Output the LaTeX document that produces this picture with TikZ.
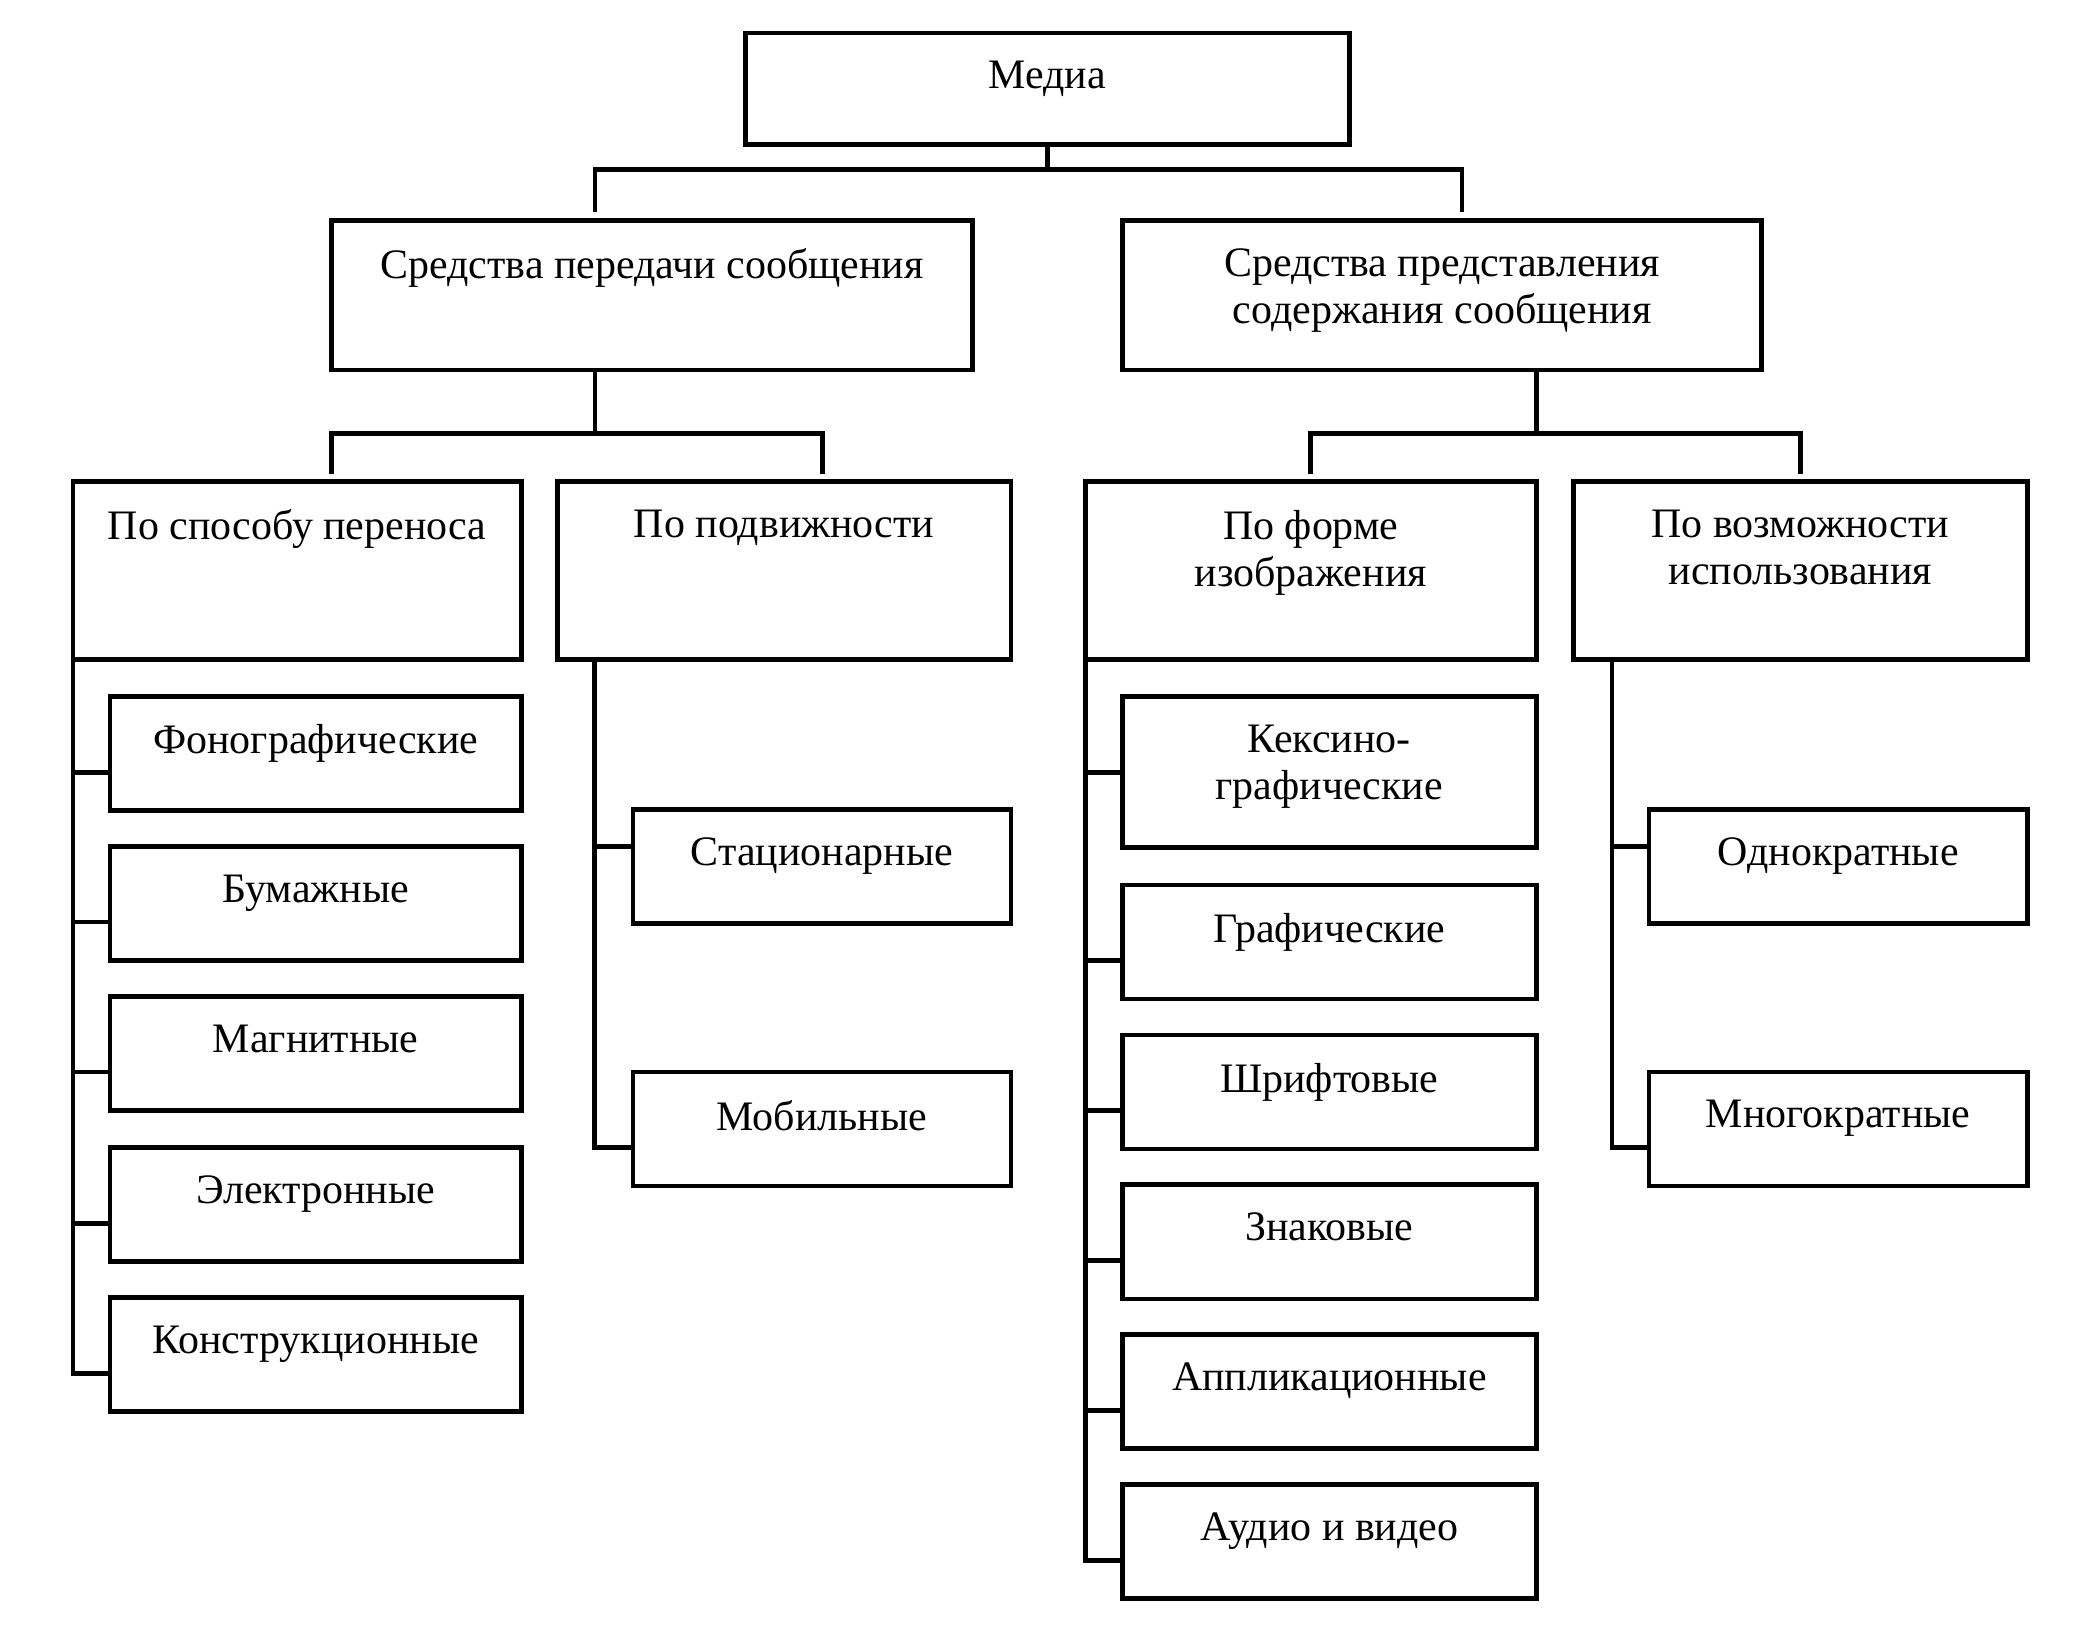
\documentclass[tikz,border=0pt]{standalone}
\usepackage{fontspec}
\setmainfont{Liberation Serif}
\usetikzlibrary{calc}

\tikzset{
    box/.style={draw, line width=2pt, inner sep=0pt, outer sep=0pt, anchor=north west},
    txt/.style={anchor=north, align=center, inner sep=0pt, font=\fontsize{18pt}{20.4pt}\selectfont},
    link/.style={line width=2pt}
}

\begin{document}
\begin{tikzpicture}[x=0.02cm,y=-0.02cm]
\useasboundingbox (0,0) rectangle (1567,1242.1);

% top
\node[box, minimum width=9.1cm, minimum height=1.68cm] (media) at (562,25){};
\node[txt] (media-t) at ($(media.north)+(0,21)$) {Медиа};

% second level
\node[box, minimum width=9.66cm, minimum height=2.26cm] (peredacha) at (250,166){};
\node[txt] (peredacha-t) at ($(peredacha.north)+(0,21)$) {Средства передачи сообщения};
\node[box, minimum width=9.64cm, minimum height=2.26cm] (predst) at (846,166){};
\node[txt] (predst-t) at ($(predst.north)+(0,21)$) {Средства представления\\содержания сообщения};

% third level
\node[box, minimum width=6.76cm, minimum height=2.68cm] (sposob) at (55,363){};
\node[txt] (sposob-t) at ($(sposob.north)+(0,21)$) {По способу переноса};
\node[box, minimum width=6.84cm, minimum height=2.68cm] (podv) at (420,363){};
\node[txt] (podv-t) at ($(podv.north)+(0,21)$) {По подвижности};
\node[box, minimum width=6.8cm, minimum height=2.68cm] (forma) at (818,363){};
\node[txt] (forma-t) at ($(forma.north)+(0,21)$) {По форме\\изображения};
\node[box, minimum width=6.84cm, minimum height=2.68cm] (vozm) at (1186,363){};
\node[txt] (vozm-t) at ($(vozm.north)+(0,21)$) {По возможности\\использования};

% po sposobu perenosa
\node[box, minimum width=6.2cm, minimum height=1.72cm] (fono) at (83,525){};
\node[txt] (fono-t) at ($(fono.north)+(0,21)$) {Фонографические};
\node[box, minimum width=6.2cm, minimum height=1.72cm] (bum) at (83,638){};
\node[txt] (bum-t) at ($(bum.north)+(0,21)$) {Бумажные};
\node[box, minimum width=6.2cm, minimum height=1.72cm] (magn) at (83,751){};
\node[txt] (magn-t) at ($(magn.north)+(0,21)$) {Магнитные};
\node[box, minimum width=6.2cm, minimum height=1.72cm] (elek) at (83,865){};
\node[txt] (elek-t) at ($(elek.north)+(0,21)$) {Электронные};
\node[box, minimum width=6.2cm, minimum height=1.72cm] (kons) at (83,978){};
\node[txt] (kons-t) at ($(kons.north)+(0,21)$) {Конструкционные};

% po podvizhnosti
\node[box, minimum width=5.7cm, minimum height=1.72cm] (stac) at (477,610){};
\node[txt] (stac-t) at ($(stac.north)+(0,21)$) {Стационарные};
\node[box, minimum width=5.7cm, minimum height=1.72cm] (mob) at (477,808){};
\node[txt] (mob-t) at ($(mob.north)+(0,21)$) {Мобильные};

% po forme izobrazheniya
\node[box, minimum width=6.24cm, minimum height=2.28cm] (kex) at (846,525){};
\node[txt] (kex-t) at ($(kex.north)+(0,21)$) {Кексино-\\графические};
\node[box, minimum width=6.24cm, minimum height=1.72cm] (graf) at (846,667){};
\node[txt] (graf-t) at ($(graf.north)+(0,21)$) {Графические};
\node[box, minimum width=6.24cm, minimum height=1.72cm] (shrift) at (846,780){};
\node[txt] (shrift-t) at ($(shrift.north)+(0,21)$) {Шрифтовые};
\node[box, minimum width=6.24cm, minimum height=1.72cm] (znak) at (846,893){};
\node[txt] (znak-t) at ($(znak.north)+(0,21)$) {Знаковые};
\node[box, minimum width=6.24cm, minimum height=1.72cm] (appl) at (846,1006){};
\node[txt] (appl-t) at ($(appl.north)+(0,21)$) {Аппликационные};
\node[box, minimum width=6.24cm, minimum height=1.72cm] (audio) at (846,1119){};
\node[txt] (audio-t) at ($(audio.north)+(0,21)$) {Аудио и видео};

% po vozmozhnosti ispolzovaniya
\node[box, minimum width=5.7cm, minimum height=1.72cm] (odno) at (1243,610){};
\node[txt] (odno-t) at ($(odno.north)+(0,21)$) {Однократные};
\node[box, minimum width=5.7cm, minimum height=1.72cm] (mnogo) at (1243,808){};
\node[txt] (mnogo-t) at ($(mnogo.north)+(0,21)$) {Многократные};

% connectors
\draw[link] (media.south) -- ++(0,19) coordinate (m1);
\draw[link] (m1) -| ($(peredacha.north)+(-43,-6)$);
\draw[link] (m1) -| ($(predst.north)+(15,-6)$);

\draw[link] ($(peredacha.south)+(-43,0)$) -- ++(0,48) coordinate (p1);
\draw[link] (p1) -| ($(sposob.north)+(26,-6)$);
\draw[link] (p1) -| ($(podv.north)+(29,-6)$);

\draw[link] ($(predst.south)+(71,0)$) -- ++(0,48) coordinate (p2);
\draw[link] (p2) -| ($(forma.north)+(0,-6)$);
\draw[link] (p2) -| ($(vozm.north)+(0,-6)$);

\draw[link] (sposob.south west) |- ($(kons.north west)+(0,57)$);
\foreach \n in {fono,bum,magn,elek}
    \draw[link] ($(\n.north west)+(0,57)$) -- ++(-28,0);

\draw[link] ($(podv.south west)+(28,0)$) |- ($(mob.north west)+(0,57)$);
\draw[link] ($(stac.north west)+(0,28)$) -- ++(-29,0);

\draw[link] (forma.south west) |- ($(audio.north west)+(0,57)$);
\foreach \n in {kex,graf,shrift,znak,appl}
    \draw[link] ($(\n.north west)+(0,57)$) -- ++(-28,0);

\draw[link] ($(vozm.south west)+(29,0)$) |- ($(mnogo.north west)+(0,57)$);
\draw[link] ($(odno.north west)+(0,28)$) -- ++(-28,0);

\end{tikzpicture}
\end{document}
